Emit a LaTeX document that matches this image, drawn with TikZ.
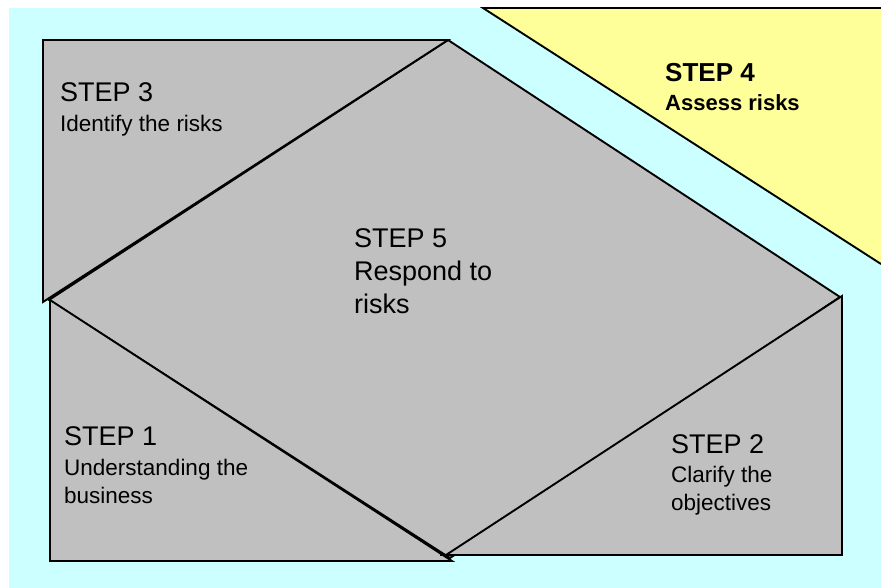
\documentclass[tikz,border=0pt]{standalone}
\usepackage{fontspec}
\setmainfont{Liberation Sans}
\definecolor{bgcyan}{HTML}{CCFFFF}
\definecolor{stepgray}{HTML}{C0C0C0}
\definecolor{stepyellow}{HTML}{FFFF99}
\tikzset{
  stepshape/.style={fill=stepgray, draw=black, line width=1.9pt, line join=miter},
  titletext/.style={anchor=base west, inner sep=0pt, font=\fontsize{27}{33}\selectfont},
  desctext/.style={anchor=base west, inner sep=0pt, align=left, font=\fontsize{22.5}{28}\selectfont},
}
\begin{document}
\begin{tikzpicture}[x=1pt,y=-1pt]
\useasboundingbox (0,0) rectangle (881,588);
\fill[white] (0,0) rectangle (881,588);
\fill[bgcyan] (9,8) rectangle (881,588);
% step 4 yellow triangle
\fill[stepyellow] (483,8) -- (881,8) -- (881,264) -- cycle;
\draw[line width=1.9pt] (881,8) -- (483,8) -- (881,264);
% step 5 diamond
\path[stepshape] (448,40) -- (840,297) -- (450,558) -- (49,300) -- cycle;
% step 3
\path[stepshape] (43,40) -- (448,40) -- (43,302) -- cycle;
% step 1
\path[stepshape] (50,300) -- (452,561) -- (50,561) -- cycle;
% step 2
\path[stepshape] (842,296) -- (842,555) -- (440,555) -- (446,555) -- cycle;
% texts
\node[titletext] (t3) at (60,102) {STEP 3};
\node[desctext] (d3) at (60,132) {Identify the risks};
\node[titletext, font=\bfseries\fontsize{26}{30}\selectfont] (t4) at (665,82) {STEP 4};
\node[desctext, font=\bfseries\fontsize{22}{28}\selectfont] (d4) at (665,111) {Assess risks};
\node[titletext, align=left, font=\fontsize{27}{33}\selectfont] (t5) at (354,313) {STEP 5\\Respond to\\risks};
\node[titletext] (t1) at (64,445) {STEP 1};
\node[desctext] (d1) at (64,503) {Understanding the\\business};
\node[titletext] (t2) at (671,453) {STEP 2};
\node[desctext] (d2) at (671,510) {Clarify the\\objectives};
\end{tikzpicture}
\end{document}
